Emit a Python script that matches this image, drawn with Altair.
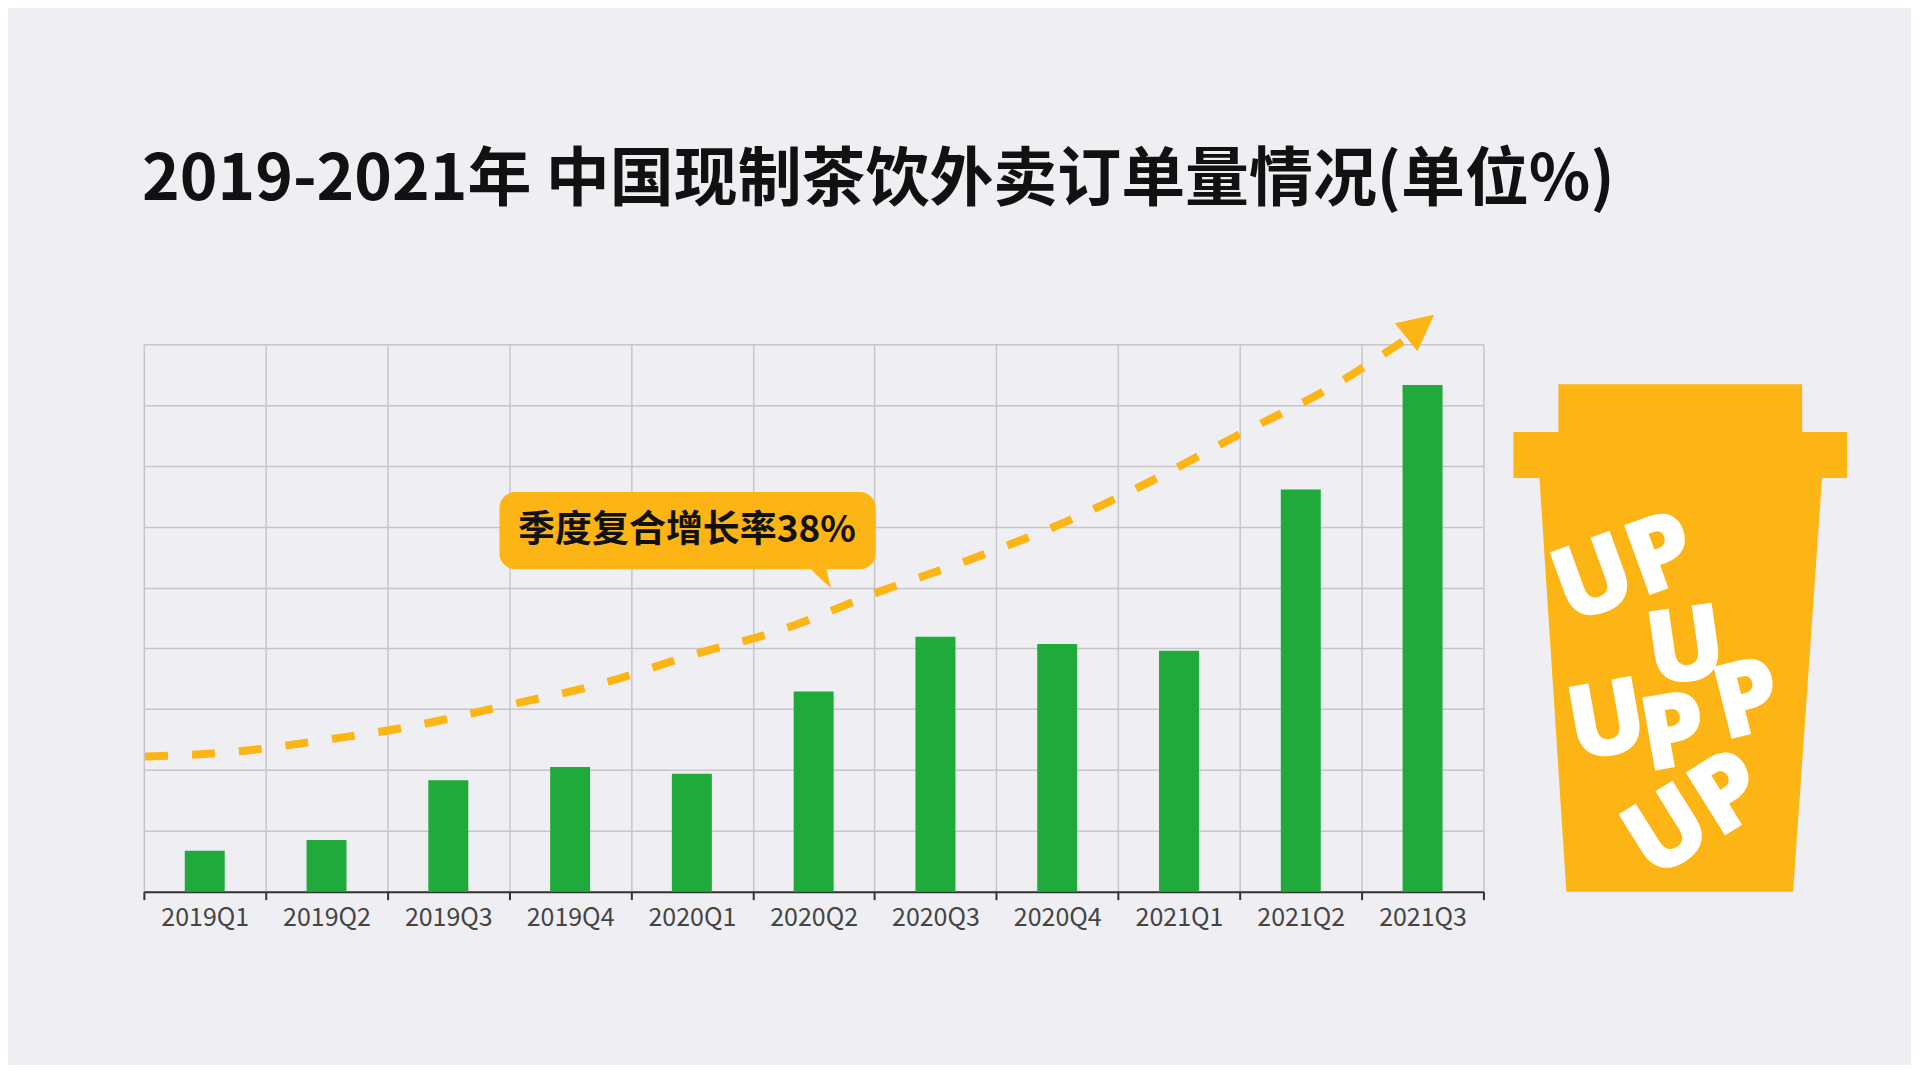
import altair as alt
import pandas as pd

# ---------------- data ----------------
quarters = ["2019Q1", "2019Q2", "2019Q3", "2019Q4", "2020Q1", "2020Q2",
            "2020Q3", "2020Q4", "2021Q1", "2021Q2", "2021Q3"]
orders = [6.7, 8.5, 18.3, 20.5, 19.4, 32.9, 41.9, 40.7, 39.6, 66.1, 83.3]

# dashed trend curve (x in band units 0..11, y on the bar scale)
trend_x = [0.01, 0.74, 1.54, 2.15, 3.0, 3.76, 4.45, 5.26, 6.01, 6.77, 7.57, 8.27, 8.97, 9.78, 10.34]
trend_y = [22.2, 23.0, 25.1, 27.0, 30.7, 34.2, 38.6, 43.2, 49.1, 54.5, 60.8, 67.5, 74.9, 83.3, 90.5]
arrow_x = [10.48]
arrow_y = [93.0]

# callout bubble
bubble_x = [2.92]
bubble_x2 = [6.01]
bubble_y = [53.0]
bubble_y2 = [65.7]
bubble_text = ["季度复合增长率38%"]
bubble_text_x = [4.46]
bubble_text_y = [59.3]
tail_x = [5.52]
tail_y = [52.4]

# cup illustration (cup units: x 0..334, y 0..548 from top)
lid_x = [45, 0]
lid_x2 = [289, 334]
lid_y = [40, 88]
lid_y2 = [88, 134]
body_y = [133, 548]
body_left = [26, 53]
body_right = [309, 280]
up_text = ["UP", "U", "P", "U", "P", "UP"]
up_x = [112, 173, 235, 94, 161, 183]
up_y = [227, 306, 359, 380, 392, 473]
up_angle = [340, 352, 346, 350, 350, 328]

TITLE = "2019-2021年 中国现制茶饮外卖订单量情况(单位%)"

# ---------------- styles ----------------
BG = "#efeff3"
GREEN = "#1faa3b"
ORANGE = "#fdb515"
GRID = "#c6c6ca"
CJK = "Noto Sans CJK SC"

W, H = 1341, 548
CUP_W = 334

bars_df = pd.DataFrame({"quarter": quarters, "value": orders})
trend_df = pd.DataFrame({"x": trend_x, "y": trend_y})
arrow_df = pd.DataFrame({"x": arrow_x, "y": arrow_y})
bubble_df = pd.DataFrame({"x": bubble_x, "x2": bubble_x2, "y": bubble_y, "y2": bubble_y2})
text_df = pd.DataFrame({"x": bubble_text_x, "y": bubble_text_y, "t": bubble_text})
tail_df = pd.DataFrame({"x": tail_x, "y": tail_y})

yscale = alt.Scale(domain=[0, 90], nice=False)
xq = alt.Scale(domain=[0, 11], nice=False)
yaxis = alt.Axis(values=list(range(0, 91, 10)), labels=False, ticks=False,
                 domain=False, grid=True, gridColor=GRID, gridWidth=1.5,
                 title=None, minExtent=0, maxExtent=0, labelPadding=0)

bars = alt.Chart(bars_df).mark_bar(color=GREEN, size=40).encode(
    x=alt.X("quarter:N", sort=quarters,
            scale=alt.Scale(paddingInner=0, paddingOuter=0),
            axis=alt.Axis(title=None, labelAngle=0, tickBand="extent", grid=True,
                          gridColor=GRID, gridWidth=1.5,
                          domainColor="#333333", domainWidth=2,
                          tickColor="#333333", tickWidth=2, tickSize=8,
                          labelFont=CJK, labelFontSize=25, labelColor="#444444",
                          labelPadding=6)),
    y=alt.Y("value:Q", scale=yscale, axis=yaxis),
)

line = alt.Chart(trend_df).mark_line(color=ORANGE, strokeWidth=8, strokeDash=[23, 24],
                                     interpolate="monotone").encode(
    x=alt.X("x:Q", scale=xq, axis=None),
    y=alt.Y("y:Q", scale=yscale, axis=yaxis),
)

arrow = alt.Chart(arrow_df).mark_point(shape="M1,0 L-1,-1 L-1,1 Z", filled=True, size=1296,
                                       angle=321, color=ORANGE, opacity=1).encode(
    x=alt.X("x:Q", scale=xq, axis=None),
    y=alt.Y("y:Q", scale=yscale, axis=yaxis),
)

bubble = alt.Chart(bubble_df).mark_rect(color=ORANGE, cornerRadius=16).encode(
    x=alt.X("x:Q", scale=xq, axis=None), x2="x2:Q",
    y=alt.Y("y:Q", scale=yscale, axis=yaxis), y2="y2:Q",
)

tail = alt.Chart(tail_df).mark_point(shape="M-1,-1 L0.5,-1 L1,1 Q-0.1,0.1 -1,-1 Z",
                                     filled=True, size=900, color=ORANGE, opacity=1).encode(
    x=alt.X("x:Q", scale=xq, axis=None),
    y=alt.Y("y:Q", scale=yscale, axis=yaxis),
)

label = alt.Chart(text_df).mark_text(font=CJK, fontSize=37, fontWeight="bold", color="#111111",
                                     align="center", baseline="middle").encode(
    x=alt.X("x:Q", scale=xq, axis=None),
    y=alt.Y("y:Q", scale=yscale, axis=yaxis),
    text="t:N",
)

overlay = alt.layer(line, bubble, tail, label, arrow)
main = alt.layer(bars, overlay).resolve_scale(x="independent").properties(width=W, height=H)

# ---------------- cup ----------------
cx = alt.Scale(domain=[0, CUP_W], nice=False)
cy = alt.Scale(domain=[0, H], nice=False, reverse=True)

lid_df = pd.DataFrame({"x": lid_x, "x2": lid_x2, "y": lid_y, "y2": lid_y2})
body_df = pd.DataFrame({"y": body_y, "l": body_left, "r": body_right})
up_df = pd.DataFrame({"t": up_text, "x": up_x, "y": up_y, "a": up_angle})

lids = alt.Chart(lid_df).mark_rect(color=ORANGE).encode(
    x=alt.X("x:Q", scale=cx, axis=None), x2="x2:Q",
    y=alt.Y("y:Q", scale=cy, axis=None), y2="y2:Q",
)
body = alt.Chart(body_df).mark_area(color=ORANGE, orient="horizontal", opacity=1).encode(
    y=alt.Y("y:Q", scale=cy, axis=None),
    x=alt.X("l:Q", scale=cx, axis=None), x2="r:Q",
)
ups = alt.Chart(up_df).mark_text(font="Open Sans", fontSize=104, fontWeight=800,
                                 color="white", align="center", baseline="middle").encode(
    x=alt.X("x:Q", scale=cx, axis=None),
    y=alt.Y("y:Q", scale=cy, axis=None),
    text="t:N",
    angle=alt.Angle("a:Q", scale=None),
)
cup = alt.layer(body, lids, ups).properties(width=CUP_W, height=H)

chart = alt.hconcat(main, cup, spacing=29).properties(
    title=alt.TitleParams(TITLE, anchor="start", fontSize=64, font=CJK, fontWeight="bold",
                          color="#111111", offset=102, dx=13),
    padding={"left": 121, "top": 140, "right": 64, "bottom": 134},
).configure(background=BG).configure_view(stroke=None)

chart.save("out.html", embed_options={"renderer": "svg", "actions": False})
